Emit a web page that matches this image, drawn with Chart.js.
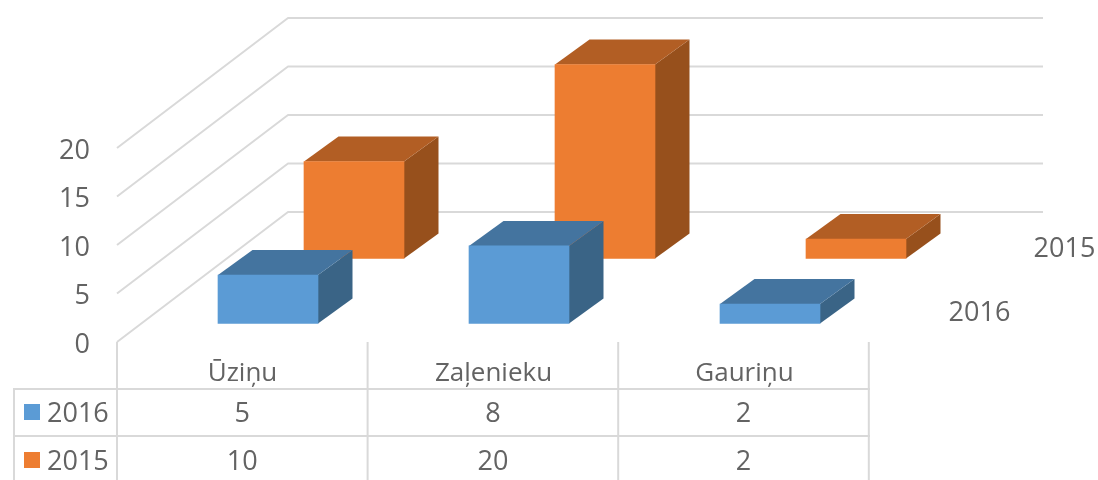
<!DOCTYPE html>
<html><head><meta charset="utf-8">
<style>html,body{margin:0;padding:0;background:#fff}canvas{display:block;filter:blur(0.4px)}</style>
<script src="https://cdn.jsdelivr.net/npm/chart.js@4"></script></head>
<body><canvas id="c" width="1098" height="480"></canvas>
<script>
const categories = ['Ūziņu', 'Zaļenieku', 'Gauriņu'];
const series2016 = [5, 8, 2];
const series2015 = [10, 20, 2];
const seriesNames = ['2016', '2015'];
const yMax = 20, yStep = 5;

const FONT = '"Open Sans", sans-serif', FS = 27, TXT = '#636363', GRID = '#d9d9d9';
const WALL = {dx: 171, dy: -130, right: 1043};
const ROWS = [
  {dx: 25.5, dy: -18.5, front: '#5b9bd5', top: '#44749f', side: '#3a6486'},
  {dx: 111.5, dy: -83.5, front: '#ed7d31', top: '#b25e24', side: '#97501c'}
];
const BOX = {dx: 34.5, dy: -25};
const DEPTH_LABELS = [{x: 979.5, y: 313}, {x: 1064.5, y: 249}];
const TABLE = {x0: 14, top: 342, head: 389, row: 436, bottom: 480, colStep: 250.6};

function poly(ctx, pts, fill) {
  ctx.beginPath();
  pts.forEach((p, i) => i ? ctx.lineTo(p[0], p[1]) : ctx.moveTo(p[0], p[1]));
  ctx.closePath(); ctx.fillStyle = fill; ctx.fill();
}

const plugin3d = {
  id: 'plugin3d',
  beforeDatasetsDraw(chart) {
    const {ctx, scales: {y}, chartArea: a} = chart;
    ctx.save(); ctx.strokeStyle = GRID; ctx.lineWidth = 2; ctx.lineJoin = 'round';
    y.ticks.forEach(t => {
      const py = y.getPixelForValue(t.value);
      ctx.beginPath(); ctx.moveTo(a.left, py);
      ctx.lineTo(a.left + WALL.dx, py + WALL.dy);
      ctx.lineTo(WALL.right, py + WALL.dy); ctx.stroke();
    });
    ctx.restore();
  },
  beforeDatasetDraw(chart, args) {
    const {ctx} = chart, r = ROWS[args.index];
    ctx.save(); ctx.translate(r.dx, r.dy);
    args.meta.data.forEach(el => {
      const {x, y, base, width} = el.getProps(['x', 'y', 'base', 'width'], true);
      const L = x - width / 2, R = x + width / 2;
      poly(ctx, [[R, y], [R + BOX.dx, y + BOX.dy], [R + BOX.dx, base + BOX.dy], [R, base]], r.side);
      poly(ctx, [[L, y], [L + BOX.dx, y + BOX.dy], [R + BOX.dx, y + BOX.dy], [R, y]], r.top);
    });
  },
  afterDatasetDraw(chart) { chart.ctx.restore(); },
  afterDraw(chart) {
    const {ctx, chartArea: a} = chart, T = TABLE;
    ctx.save();
    ctx.strokeStyle = GRID; ctx.lineWidth = 2;
    const line = (x1, y1, x2, y2) => { ctx.beginPath(); ctx.moveTo(x1, y1); ctx.lineTo(x2, y2); ctx.stroke(); };
    for (let i = 0; i <= categories.length; i++) line(a.left + i * T.colStep, T.top, a.left + i * T.colStep, T.bottom);
    const end = a.left + categories.length * T.colStep + 1;
    line(T.x0, T.head, T.x0, T.bottom);
    line(T.x0 - 1, T.head, end, T.head);
    line(T.x0 - 1, T.row, end, T.row);
    ctx.font = FS + 'px ' + FONT; ctx.fillStyle = TXT; ctx.textBaseline = 'middle';
    const rowsY = [414, 462], keyY = [412, 460];
    [series2016, series2015].forEach((vals, r) => {
      ctx.fillStyle = ROWS[r].front;
      ctx.fillRect(24, keyY[r] - 8, 16, 16);
      ctx.fillStyle = TXT; ctx.textAlign = 'left';
      ctx.fillText(seriesNames[r], 47, rowsY[r]);
      ctx.textAlign = 'center';
      vals.forEach((v, i) => ctx.fillText(String(v), a.left + (i + 0.5) * T.colStep, rowsY[r]));
    });
    seriesNames.forEach((n, r) => ctx.fillText(n, DEPTH_LABELS[r].x, DEPTH_LABELS[r].y));
    ctx.restore();
  }
};

new Chart(document.getElementById('c'), {
  type: 'bar',
  data: {
    labels: categories,
    datasets: [
      {label: seriesNames[0], data: series2016, backgroundColor: ROWS[0].front, grouped: false, barThickness: 100, clip: false},
      {label: seriesNames[1], data: series2015, backgroundColor: ROWS[1].front, grouped: false, barThickness: 100, clip: false}
    ]
  },
  options: {
    responsive: false, animation: false,
    layout: {padding: {left: 0, right: 228, top: 148, bottom: 0}},
    plugins: {legend: {display: false}, title: {display: false}, tooltip: {enabled: false}},
    scales: {
      x: {
        grid: {display: false, drawTicks: false}, border: {display: false},
        ticks: {color: TXT, font: {family: FONT, size: 26}, padding: 16, maxRotation: 0},
        afterFit(s) { s.height = 138; }
      },
      y: {
        min: 0, max: yMax,
        grid: {display: false, drawTicks: false}, border: {display: false},
        ticks: {stepSize: yStep, color: TXT, font: {family: FONT, size: FS}, padding: 27},
        afterFit(s) {
          s.width = 117;
          if (!s._shifted) {
            s._shifted = true;
            const orig = s._computeLabelItems;
            s._computeLabelItems = function (area) {
              const items = orig.call(this, area);
              items.forEach(it => { it.options.translation[1] += 3; });
              return items;
            };
          }
        }
      }
    }
  },
  plugins: [plugin3d]
});
</script></body></html>
